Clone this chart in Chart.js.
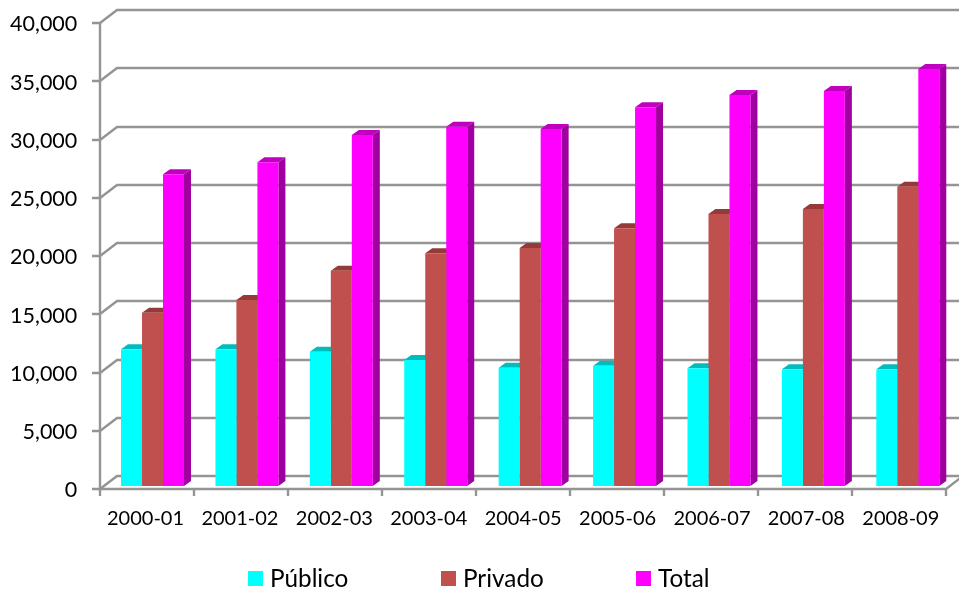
<!DOCTYPE html>
<html>
<head>
<meta charset="utf-8">
<style>html,body{margin:0;padding:0;background:#fff}canvas{display:block}</style>
<script src="https://cdn.jsdelivr.net/npm/chart.js@4"></script>
</head>
<body>
<canvas id="c" width="959" height="594"></canvas>
<script>
const categories = ['2000-01','2001-02','2002-03','2003-04','2004-05','2005-06','2006-07','2007-08','2008-09'];
const publico = [11730,11730,11530,10820,10160,10330,10100,10020,10020];
const privado = [14880,15970,18480,19980,20430,22120,23350,23780,25690];
const total = [26760,27790,30130,30840,30640,32510,33560,33910,35800];
const seriesNames = ['Público','Privado','Total'];
const frontColors = ['#00FFFF','#C0504D','#FF00FF'];
const topColors = ['#00BDBD','#953A38','#BF00BF'];
const sideColors = ['#00A6A6','#803230','#A000A0'];
const legendBoxX = [248,441,636];
const legendTextX = [270,463,658];

const AXIS_X = 100, AXIS_END_X = 946, DEPTH_X = 17, DEPTH_Y = 13;
const BAR_LIFT = 3, BAR_DX = 7, BAR_DY = 5;
const LINE = '#949494';

const threeD = {
  id:'threeD',
  beforeDatasetsDraw(chart){
    const ctx = chart.ctx, ys = chart.scales.y;
    ctx.save();
    ctx.strokeStyle = LINE; ctx.lineWidth = 2.4; ctx.lineCap = 'butt';
    ys.ticks.forEach(t => {
      const y = Math.round(ys.getPixelForValue(t.value));
      ctx.beginPath();
      ctx.moveTo(AXIS_X-8,y); ctx.lineTo(AXIS_X,y);
      ctx.lineTo(AXIS_X+DEPTH_X,y-DEPTH_Y); ctx.lineTo(chart.width+2,y-DEPTH_Y);
      ctx.stroke();
    });
    const y0 = Math.round(ys.getPixelForValue(0)), yT = Math.round(ys.getPixelForValue(ys.max));
    ctx.beginPath(); ctx.moveTo(AXIS_X,yT-1); ctx.lineTo(AXIS_X,y0+7); ctx.stroke();
    ctx.beginPath(); ctx.moveTo(AXIS_X,y0); ctx.lineTo(AXIS_END_X,y0);
    ctx.lineTo(AXIS_END_X+DEPTH_X,y0-DEPTH_Y); ctx.stroke();
    const n = categories.length;
    for(let i=1;i<=n;i++){
      const x = Math.round(AXIS_X+(AXIS_END_X-AXIS_X)*i/n);
      ctx.beginPath(); ctx.moveTo(x,y0); ctx.lineTo(x,y0+7); ctx.stroke();
    }
    ctx.restore();
    ctx.save();
    ctx.translate(0,-BAR_LIFT);
    chart.data.datasets.forEach((ds,d)=>{
      chart.getDatasetMeta(d).data.forEach(b=>{
        const l=b.x-b.width/2, r=b.x+b.width/2, t=b.y, base=b.base;
        ctx.fillStyle=topColors[d];
        ctx.beginPath(); ctx.moveTo(l,t); ctx.lineTo(l+BAR_DX,t-BAR_DY);
        ctx.lineTo(r+BAR_DX,t-BAR_DY); ctx.lineTo(r,t); ctx.closePath(); ctx.fill();
        ctx.fillStyle=sideColors[d];
        ctx.beginPath(); ctx.moveTo(r,t); ctx.lineTo(r+BAR_DX,t-BAR_DY);
        ctx.lineTo(r+BAR_DX,base-BAR_DY); ctx.lineTo(r,base); ctx.closePath(); ctx.fill();
      });
    });
  },
  afterDatasetsDraw(chart){ chart.ctx.restore(); },
  afterDraw(chart){
    const ctx = chart.ctx;
    ctx.save();
    ctx.font = '24.3px Lato';
    ctx.textBaseline = 'middle'; ctx.textAlign='left';
    chart.data.datasets.forEach((ds,d)=>{
      ctx.fillStyle = ds.backgroundColor;
      ctx.fillRect(legendBoxX[d],571,15,15);
      ctx.fillStyle = '#000';
      ctx.fillText(ds.label,legendTextX[d],579);
    });
    ctx.restore();
  }
};

new Chart(document.getElementById('c'),{
  type:'bar',
  data:{
    labels:categories,
    datasets:[publico,privado,total].map((v,i)=>({
      label:seriesNames[i], data:v, backgroundColor:frontColors[i], borderWidth:0,
      barPercentage:1, categoryPercentage:0.667
    }))
  },
  plugins:[threeD],
  options:{
    responsive:false, animation:false,
    layout:{padding:{top:23,right:4,left:0,bottom:0}},
    plugins:{legend:{display:false},tooltip:{enabled:false},title:{display:false}},
    scales:{
      x:{
        grid:{display:false}, border:{display:false},
        ticks:{color:'#000',font:{family:'Lato',size:20},padding:10,labelOffset:-7,maxRotation:0,autoSkip:false},
        afterFit(s){ s.height=105; s.paddingLeft=0; s.paddingRight=0; }
      },
      y:{
        min:0,max:40000,
        grid:{display:false,drawTicks:false}, border:{display:false},
        ticks:{color:'#000',font:{family:'Lato',size:21.5},padding:28,stepSize:5000,labelOffset:1.5,
          callback:v=>Number(v).toLocaleString('en-US')},
        afterFit(s){ s.width=105.3; s.paddingTop=0; s.paddingBottom=0; }
      }
    }
  }
});
</script>
</body>
</html>
